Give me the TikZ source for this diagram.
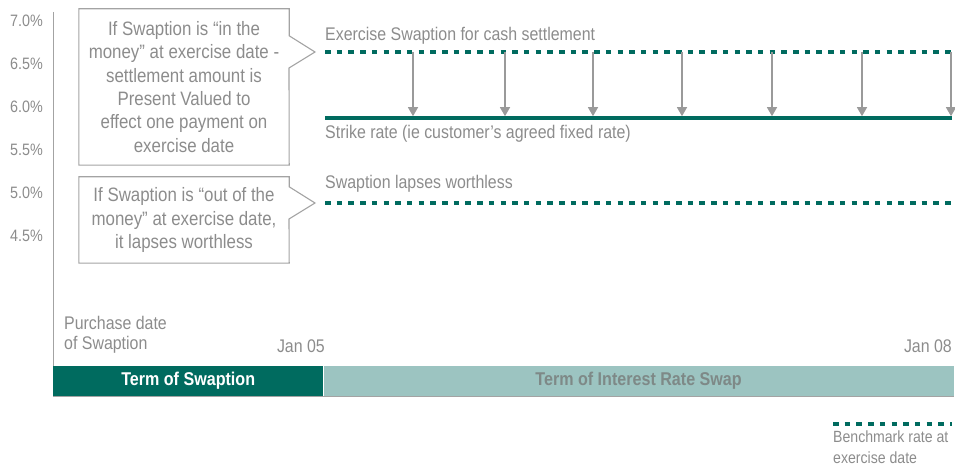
\documentclass[tikz,border=0pt]{standalone}
\usepackage{fontspec}
\setmainfont{Liberation Sans}[FakeStretch=0.87]
\usetikzlibrary{arrows.meta}

\definecolor{swteal}{HTML}{006B5F}
\definecolor{swlight}{HTML}{9CC4C1}
\definecolor{txtgray}{HTML}{8C8C8C}
\definecolor{linegray}{HTML}{A3A3A3}
\definecolor{arrgray}{HTML}{9A9A9A}

\begin{document}
\begin{tikzpicture}[x=1pt, y=-1pt, every node/.style={text=txtgray, inner sep=0pt},
	>={Triangle[width=10pt,length=9pt]},
	axislabel/.style={anchor=east, font=\fontsize{16.5}{18}\selectfont},
	ratelabel/.style={anchor=base west, font=\fontsize{18.3}{20}\selectfont},
	calloutbox/.style={align=center, minimum width=210, font=\fontsize{19.4}{23.3}\selectfont},
	outline/.style={draw=linegray, line width=1.1pt, line join=miter},
	dotrate/.style={draw=swteal, line width=4pt, dash pattern=on 5.5pt off 6.2pt},
	strike/.style={draw=swteal, line width=3.5pt},
	payarrow/.style={->, draw=arrgray, line width=1.3pt, shorten >=1.8pt},
	axisline/.style={draw=linegray, line width=1pt},
	termbar/.style={anchor=north west, minimum height=30, font=\bfseries\fontsize{18.5}{20}\selectfont}]
	\useasboundingbox (0,0) rectangle (955,470);

	% rate axis
	\foreach \v [count=\i from 0] in {7.0,6.5,6.0,5.5,5.0,4.5}
		\node[axislabel] (rate\i) at (43,20.5+43.1*\i) {\v\%};
	\coordinate (axtop) at (53,12);

	% term bars
	\node[termbar, fill=swteal, text=white, minimum width=270] (termsw) at (53,366) {Term of Swaption};
	\node[termbar, fill=swlight, text=txtgray!90!swteal, minimum width=630] (termirs) at (termsw.north east) {Term of Interest Rate Swap};
	\draw[axisline] (axtop) -- (termsw.north west);
	\draw[axisline] (termsw.south west) -- (termirs.south east);

	% dates
	\node[ratelabel, align=left, anchor=south west] (purchase) at (64,353) {Purchase date\\of Swaption};
	\node[ratelabel, anchor=east] (jan05) at (325,346) {Jan 05};
	\node[ratelabel, anchor=east] (jan08) at (952,346) {Jan 08};

	% rates
	\coordinate (exL) at (325,52);  \coordinate (exR) at (952,52);
	\coordinate (stL) at (325,118); \coordinate (stR) at (952,118);
	\coordinate (lpL) at (325,203); \coordinate (lpR) at (952,203);
	\coordinate (extip) at (315,52);
	\coordinate (lptip) at (315,203);
	\draw[dotrate] (exL) -- (exR);
	\draw[strike] (stL) -- (stR);
	\draw[dotrate] (lpL) -- (lpR);
	\node[ratelabel] (exlabel) at (325,41) {Exercise Swaption for cash settlement};
	\node[ratelabel] (stlabel) at (325,139) {Strike rate (ie customer’s agreed fixed rate)};
	\node[ratelabel] (lplabel) at (325,189) {Swaption lapses worthless};

	% settlement payments
	\foreach \x [count=\i] in {413,505,593,682,772,862,951} {
		\coordinate (pay\i) at (\x,52);
		\draw[payarrow] (pay\i) -- (pay\i |- stL);
	}

	% callouts
	\node[calloutbox, minimum height=156] (inmoney) at (184,87) {If Swaption is “in the\\money” at exercise date -\\settlement amount is\\Present Valued to\\effect one payment on\\exercise date};
	\draw[outline] (inmoney.north west) -- (inmoney.north east) -- ++(0,27) -- (extip) -- ++(-26,16) -- (inmoney.south east) -- (inmoney.south west) -- cycle;
	\node[calloutbox, minimum height=86] (outmoney) at (184,220) {If Swaption is “out of the\\money” at exercise date,\\it lapses worthless};
	\draw[outline] (outmoney.north west) -- (outmoney.north east) -- ++(0,10) -- (lptip) -- ++(-26,16) -- (outmoney.south east) -- (outmoney.south west) -- cycle;

	% legend
	\coordinate (lgL) at (833,424); \coordinate (lgR) at (952,424);
	\draw[dotrate, line width=3.5pt] (lgL) -- (lgR);
	\node[align=left, anchor=north west, font=\fontsize{16.2}{21}\selectfont] (lgtext) at (833,431) {Benchmark rate at\\exercise date};
\end{tikzpicture}
\end{document}
